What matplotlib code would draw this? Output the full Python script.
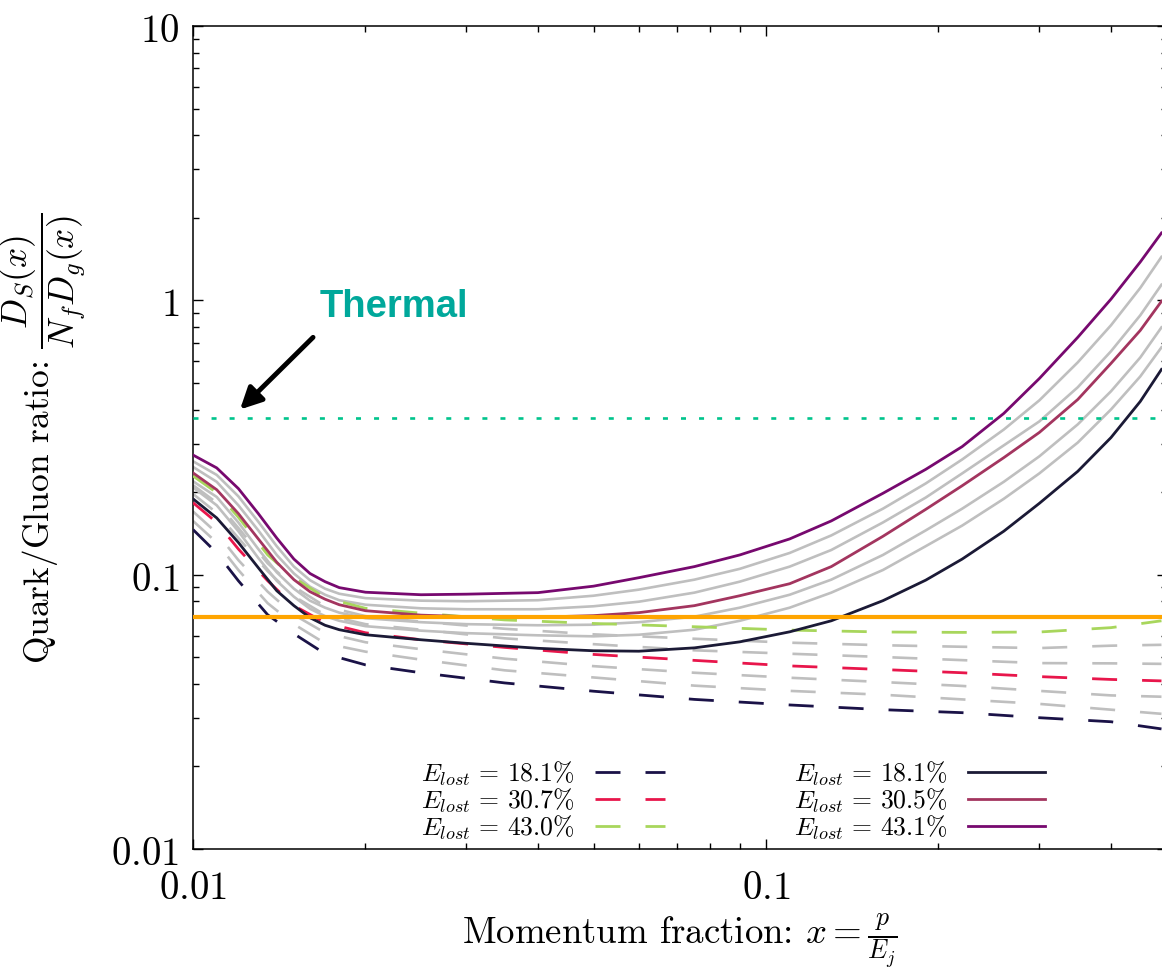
#!/usr/bin/env python3
"""Quark/Gluon ratio vs momentum fraction (log-log)"""

import matplotlib
matplotlib.use("Agg")
import matplotlib.pyplot as plt
from matplotlib.ticker import FixedLocator, FixedFormatter, LogLocator, NullFormatter

plt.rcParams["mathtext.fontset"] = "cm"
plt.rcParams["lines.scale_dashes"] = False

# ═══════════════════════════════════════════════════════════
# data
# ═══════════════════════════════════════════════════════════
x_solid = [0.01, 0.011, 0.012, 0.013, 0.014, 0.015, 0.016, 0.017, 0.018, 0.02,
           0.025, 0.03, 0.04, 0.05, 0.06, 0.075, 0.09, 0.11, 0.13, 0.16,
           0.19, 0.22, 0.26, 0.3, 0.35, 0.4, 0.45, 0.49]

# solid curves, bottom to top
solid_181 = [0.189, 0.161, 0.131, 0.106, 0.0874, 0.0771, 0.0697, 0.0654, 0.0630, 0.0604,
             0.0579, 0.0562, 0.0539, 0.0528, 0.0526, 0.0541, 0.0569, 0.0619, 0.0679, 0.0804,
             0.0955, 0.114, 0.144, 0.182, 0.238, 0.316, 0.428, 0.560]
solid_gray1 = [0.208, 0.179, 0.144, 0.115, 0.0950, 0.0831, 0.0751, 0.0706, 0.0679, 0.0649,
               0.0625, 0.0612, 0.0601, 0.0596, 0.0604, 0.0630, 0.0679, 0.0758, 0.0860, 0.104,
               0.127, 0.151, 0.189, 0.234, 0.303, 0.400, 0.528, 0.674]
solid_gray2 = [0.219, 0.192, 0.155, 0.124, 0.102, 0.0889, 0.0804, 0.0758, 0.0727, 0.0694,
               0.0671, 0.0660, 0.0654, 0.0657, 0.0671, 0.0703, 0.0758, 0.0845, 0.0959, 0.118,
               0.145, 0.174, 0.218, 0.270, 0.353, 0.466, 0.619, 0.797]
solid_305 = [0.235, 0.204, 0.167, 0.135, 0.111, 0.0959, 0.0867, 0.0814, 0.0777, 0.0739,
             0.0712, 0.0703, 0.0700, 0.0709, 0.0727, 0.0771, 0.0838, 0.0927, 0.107, 0.138,
             0.173, 0.211, 0.267, 0.330, 0.435, 0.589, 0.777, 0.992]
solid_gray3 = [0.247, 0.218, 0.179, 0.145, 0.118, 0.101, 0.0904, 0.0845, 0.0807, 0.0777,
               0.0754, 0.0748, 0.0748, 0.0767, 0.0797, 0.0860, 0.0943, 0.107, 0.123, 0.155,
               0.191, 0.234, 0.296, 0.362, 0.482, 0.652, 0.882, 1.14]
solid_gray4 = [0.259, 0.231, 0.193, 0.156, 0.127, 0.107, 0.0955, 0.0889, 0.0852, 0.0821,
               0.0804, 0.0800, 0.0807, 0.0838, 0.0882, 0.0959, 0.105, 0.120, 0.139, 0.174,
               0.215, 0.263, 0.338, 0.432, 0.594, 0.811, 1.11, 1.44]
solid_431 = [0.273, 0.245, 0.206, 0.167, 0.136, 0.114, 0.101, 0.0943, 0.0897, 0.0863,
             0.0845, 0.0849, 0.0860, 0.0908, 0.0975, 0.107, 0.118, 0.135, 0.157, 0.198,
             0.242, 0.293, 0.387, 0.519, 0.733, 1.01, 1.38, 1.76]

x_dash = [0.01, 0.011, 0.012, 0.0135, 0.015, 0.017, 0.02, 0.025, 0.035,
          0.05, 0.075, 0.11, 0.16, 0.22, 0.3, 0.4, 0.49]

# dashed curves, bottom to top
dash_181 = [0.146, 0.120, 0.0950, 0.0714, 0.0609, 0.0515, 0.0469, 0.0439, 0.0403,
            0.0376, 0.0351, 0.0335, 0.0322, 0.0314, 0.0301, 0.0291, 0.0274]
dash_gray1 = [0.157, 0.131, 0.104, 0.0787, 0.0660, 0.0562, 0.0524, 0.0490, 0.0448,
              0.0422, 0.0394, 0.0377, 0.0365, 0.0351, 0.0338, 0.0322, 0.0311]
dash_gray2 = [0.170, 0.142, 0.113, 0.0867, 0.0714, 0.0614, 0.0567, 0.0535, 0.0494,
              0.0464, 0.0439, 0.0421, 0.0406, 0.0393, 0.0377, 0.0363, 0.0359]
dash_307 = [0.183, 0.155, 0.124, 0.0950, 0.0771, 0.0668, 0.0614, 0.0579, 0.0543,
            0.0512, 0.0487, 0.0465, 0.0451, 0.0439, 0.0425, 0.0415, 0.0410]
dash_gray3 = [0.197, 0.168, 0.136, 0.103, 0.0834, 0.0714, 0.0660, 0.0630, 0.0586,
              0.0558, 0.0530, 0.0515, 0.0501, 0.0488, 0.0476, 0.0475, 0.0473]
dash_gray4 = [0.212, 0.183, 0.148, 0.110, 0.0904, 0.0767, 0.0706, 0.0674, 0.0635,
              0.0606, 0.0584, 0.0565, 0.0553, 0.0546, 0.0540, 0.0551, 0.0555]
dash_430 = [0.229, 0.199, 0.162, 0.118, 0.0975, 0.0824, 0.0754, 0.0724, 0.0684,
            0.0664, 0.0646, 0.0628, 0.0618, 0.0616, 0.0618, 0.0641, 0.0679]

thermal_level = 0.374
orange_level = 0.07

dash_labels = [r"$E_{lost}\,=\,18.1\%$", r"$E_{lost}\,=\,30.7\%$", r"$E_{lost}\,=\,43.0\%$"]
solid_labels = [r"$E_{lost}\,=\,18.1\%$", r"$E_{lost}\,=\,30.5\%$", r"$E_{lost}\,=\,43.1\%$"]

GRAY = "#bfbfbf"
DASH = (0, (18, 18))


def main():
    fig = plt.figure(figsize=(11.62, 9.70), dpi=100)
    ax = fig.add_axes([193 / 1162, 120 / 970, 973.5 / 1162, 823 / 970])

    # gray curves first
    for ys in (solid_gray1, solid_gray2, solid_gray3, solid_gray4):
        ax.plot(x_solid, ys, color=GRAY, lw=1.9, zorder=2)
    for ys in (dash_gray1, dash_gray2, dash_gray3, dash_gray4):
        ax.plot(x_dash, ys, color=GRAY, lw=1.9, linestyle=DASH, zorder=2)

    d1, = ax.plot(x_dash, dash_181, color="#1a1247", lw=2.0, linestyle=DASH, zorder=3)
    d2, = ax.plot(x_dash, dash_307, color="#e8164b", lw=2.0, linestyle=DASH, zorder=3)
    d3, = ax.plot(x_dash, dash_430, color="#a8d65c", lw=2.0, linestyle=DASH, zorder=3)
    s1, = ax.plot(x_solid, solid_181, color="#1b1a36", lw=2.0, zorder=3)
    s2, = ax.plot(x_solid, solid_305, color="#a3355f", lw=2.0, zorder=3)
    s3, = ax.plot(x_solid, solid_431, color="#77096f", lw=2.0, zorder=3)

    ax.axhline(orange_level, color="#ffa500", lw=3.0, zorder=4)
    ax.axhline(thermal_level, color="#00c48c", lw=1.9, linestyle=(0, (3.6, 9.4)), zorder=4)

    ax.annotate("", xy=(0.01208, 0.400), xytext=(0.0162, 0.733),
                arrowprops=dict(arrowstyle="-|>,head_length=1.3,head_width=0.65",
                                color="black", lw=3.5, shrinkA=0, shrinkB=0))
    ax.text(0.01665, 0.951, "Thermal", color="#00a89b", fontsize=27.5,
            fontweight="bold", family="Liberation Sans", ha="left", va="center")

    ax.set_xscale("log")
    ax.set_yscale("log")
    ax.set_xlim(0.01, 0.5)
    ax.set_ylim(0.01, 10)

    ax.xaxis.set_major_locator(FixedLocator([0.01, 0.1]))
    ax.xaxis.set_major_formatter(FixedFormatter([r"$0.01$", r"$0.1$"]))
    ax.yaxis.set_major_locator(FixedLocator([0.01, 0.1, 1, 10]))
    ax.yaxis.set_major_formatter(FixedFormatter([r"$0.01$", r"$0.1$", r"$1$", r"$10$"]))
    for axis in (ax.xaxis, ax.yaxis):
        axis.set_minor_locator(LogLocator(base=10, subs=range(2, 10), numticks=20))
        axis.set_minor_formatter(NullFormatter())

    ax.tick_params(which="both", direction="in", top=True, right=True,
                   labelsize=28, width=1.0)
    ax.tick_params(which="major", length=7.5)
    ax.tick_params(which="minor", length=4)
    ax.tick_params(axis="y", pad=10)
    ax.tick_params(axis="x", pad=14)
    for sp in ax.spines.values():
        sp.set_linewidth(1.1)

    ax.set_xlabel(r"Momentum fraction: $x = \frac{p}{E_j}$", fontsize=26.5, family="cmr10")
    ax.xaxis.set_label_coords(0.5, -0.074)
    ax.set_ylabel(r"Quark/Gluon ratio: $\dfrac{D_S(x)}{N_f D_g(x)}$", fontsize=25.5,
                  family="cmr10")
    ax.yaxis.set_label_coords(-0.1075, 0.5)

    # two legends, label on the left, sample on the right
    leg_kw = dict(frameon=False, markerfirst=False, fontsize=18.5,
                  handletextpad=0.8, labelspacing=-0.06, borderpad=0, borderaxespad=0,
                  loc="center right", bbox_transform=fig.transFigure)
    leg1 = ax.legend([d1, d2, d3], dash_labels, handlelength=2.72,
                     bbox_to_anchor=(665 / 1162, 169 / 970), **leg_kw)
    ax.add_artist(leg1)
    ax.legend([s1, s2, s3], solid_labels, handlelength=3.0,
              bbox_to_anchor=(1045 / 1162, 169 / 970), **leg_kw)

    fig.savefig("out.png", dpi=100)
    print("[OK] out.png")


if __name__ == "__main__":
    main()
